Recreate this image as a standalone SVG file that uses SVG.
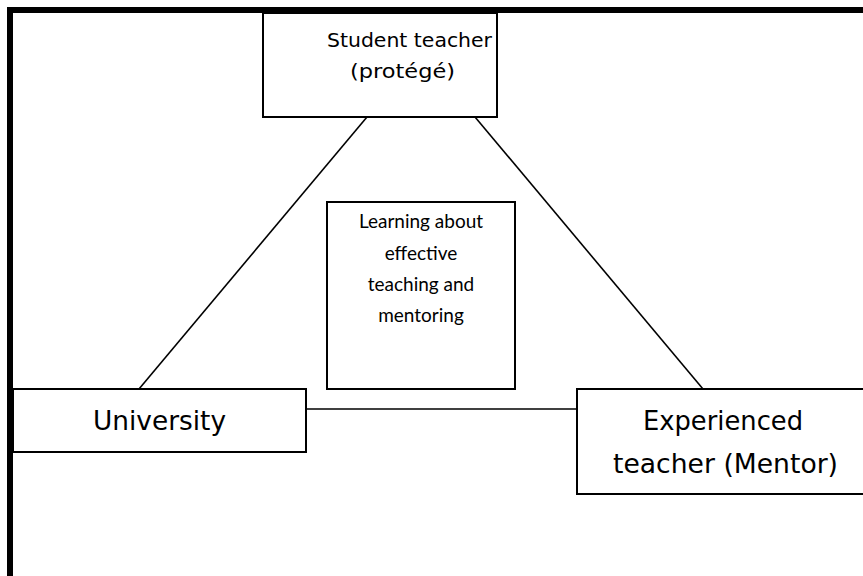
<svg xmlns="http://www.w3.org/2000/svg" width="863" height="576" viewBox="0 0 863 576">
<style>
.box{fill:#fff;stroke:#000;stroke-width:2}
.conn{stroke:#000;stroke-width:1.6;fill:none}
.comic{font-family:"DejaVu Sans","Liberation Sans",sans-serif;fill:#000;text-anchor:middle}
.cal{font-family:Lato,"Open Sans","Liberation Sans",sans-serif;fill:#000;text-anchor:middle;font-size:19px}
</style>
<rect width="863" height="576" fill="#fff"/>
<g id="frame">
<path d="M10 576 V10 H863" fill="none" stroke="#000" stroke-width="6"/>
</g>
<g id="connectors">
<line class="conn" x1="367" y1="117" x2="139" y2="389"/>
<line class="conn" x1="475" y1="117" x2="703" y2="389"/>
<line class="conn" x1="306" y1="409" x2="577" y2="409"/>
</g>
<g id="student-teacher">
<rect class="box" x="263" y="13" width="234" height="104"/>
<text class="comic" font-size="19" x="409.5" y="47" textLength="165" lengthAdjust="spacingAndGlyphs">Student teacher</text>
<text class="comic" font-size="19" x="402.5" y="78" textLength="105" lengthAdjust="spacingAndGlyphs">(protégé)</text>
</g>
<g id="learning">
<rect class="box" x="327" y="202" width="188" height="187"/>
<text class="cal" x="421" y="228">Learning about</text>
<text class="cal" x="421" y="260">effective</text>
<text class="cal" x="421" y="291">teaching and</text>
<text class="cal" x="421" y="322">mentoring</text>
</g>
<g id="university">
<rect class="box" x="13" y="389" width="293" height="63"/>
<text class="comic" font-size="27" x="159.5" y="430" textLength="133" lengthAdjust="spacingAndGlyphs">University</text>
</g>
<g id="mentor">
<rect class="box" x="577" y="389" width="290" height="105"/>
<text class="comic" font-size="27" x="723" y="430" textLength="160" lengthAdjust="spacingAndGlyphs">Experienced</text>
<text class="comic" font-size="27" x="725.5" y="473" textLength="225" lengthAdjust="spacingAndGlyphs">teacher (Mentor)</text>
</g>
</svg>
